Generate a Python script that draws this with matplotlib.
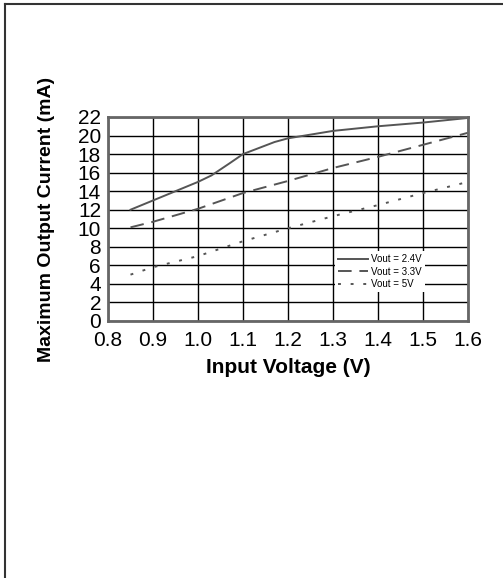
import matplotlib
matplotlib.use("Agg")
import matplotlib.pyplot as plt
from matplotlib.lines import Line2D

plt.rcParams['font.family'] = ['Liberation Sans', 'DejaVu Sans']

# input voltage (V) vs max output current (mA)
vin_24 = [0.85, 0.9, 0.95, 1.0, 1.03, 1.07, 1.1, 1.17, 1.2, 1.25, 1.3, 1.4, 1.45, 1.5, 1.6]
iout_24 = [12.0, 13.0, 14.0, 15.0, 15.7, 17.0, 18.0, 19.3, 19.7, 20.1, 20.5, 21.0, 21.2, 21.4, 21.9]

vin_33 = [0.85, 0.9, 1.0, 1.1, 1.2, 1.3, 1.4, 1.5, 1.6]
iout_33 = [10.1, 10.7, 12.1, 13.8, 15.1, 16.5, 17.7, 19.0, 20.3]

vin_5 = [0.85, 0.9, 1.0, 1.1, 1.2, 1.3, 1.4, 1.5, 1.6]
iout_5 = [5.0, 5.8, 7.0, 8.6, 10.0, 11.3, 12.5, 13.8, 15.0]

xticks = [0.8, 0.9, 1.0, 1.1, 1.2, 1.3, 1.4, 1.5, 1.6]
yticks = list(range(0, 23, 2))

fig = plt.figure(figsize=(5.03, 5.78), dpi=100)
ax = fig.add_axes([108/503, 1-321/578, 360/503, 204/578])

grey = '#555555'
ax.plot(vin_24, iout_24, color=grey, lw=1.4, label='Vout = 2.4V')
ax.plot(vin_33, iout_33, color=grey, lw=1.4, dashes=(7, 4), label='Vout = 3.3V')
ax.plot(vin_5, iout_5, color=grey, lw=1.4, dashes=(1.5, 5), label='Vout = 5V')

ax.set_xlim(0.8, 1.6)
ax.set_ylim(0, 22)
ax.set_xticks(xticks)
ax.set_xticklabels(['%.1f' % v for v in xticks])
ax.set_yticks(yticks)
ax.grid(True, color='black', lw=1.0)
ax.set_axisbelow(True)
ax.tick_params(length=0, labelsize=15)
ax.tick_params(axis='x', pad=7)
ax.tick_params(axis='y', pad=5)
for s in ax.spines.values():
    s.set_color('#666666')
    s.set_linewidth(2)

ax.set_xlabel('Input Voltage (V)', fontsize=15, fontweight='bold')
ax.set_ylabel('Maximum Output Current (mA)', fontsize=14, fontweight='bold')
ax.xaxis.set_label_coords(0.5, -0.183)
ax.yaxis.set_label_coords(-0.148, 0.5)

leg = ax.legend(loc='lower right', bbox_to_anchor=(0.88, 0.142), fontsize=7,
                frameon=True, handlelength=3.1, labelspacing=0.25,
                borderpad=0.3, handletextpad=0.3, borderaxespad=0)
leg.get_frame().set_edgecolor('none')
leg.get_frame().set_facecolor('white')
leg.get_frame().set_alpha(1)
leg.get_frame().set_boxstyle('square', pad=0)

# outer border
fig.add_artist(Line2D([5/503, 5/503], [0, 1-4/578], color='#333333', lw=1.5, transform=fig.transFigure))
fig.add_artist(Line2D([5/503, 1], [1-4/578, 1-4/578], color='#333333', lw=1.5, transform=fig.transFigure))

fig.savefig('out.png', dpi=100)
